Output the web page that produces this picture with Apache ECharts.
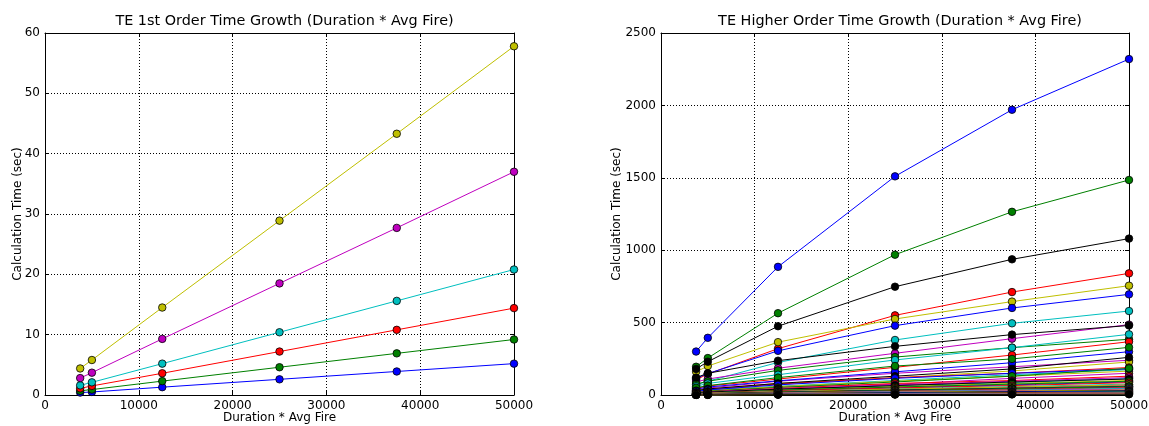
<!DOCTYPE html>
<html>
<head>
<meta charset="utf-8">
<script src="https://cdn.jsdelivr.net/npm/echarts@6/dist/echarts.min.js"></script>
<style>html,body{margin:0;padding:0;background:#fff;}#c{width:1149px;height:426px;}</style>
</head>
<body>
<div id="c"></div>
<script>
// x values (Duration * Avg Fire)
const xValues = [3750, 5000, 12500, 25000, 37500, 50000];
const xTicks = [0, 10000, 20000, 30000, 40000, 50000];
const leftYTicks = [0, 10, 20, 30, 40, 50, 60];
const rightYTicks = [0, 500, 1000, 1500, 2000, 2500];

// Left chart: TE 1st order (colour cycle b, g, r, c, m, y)
const firstOrderBlue    = [0.4, 0.5, 1.3, 2.6, 3.9, 5.2];
const firstOrderGreen   = [0.7, 0.9, 2.3, 4.6, 6.9, 9.2];
const firstOrderRed     = [1.1, 1.5, 3.6, 7.2, 10.8, 14.4];
const firstOrderCyan    = [1.6, 2.1, 5.2, 10.4, 15.6, 20.8];
const firstOrderMagenta = [2.8, 3.7, 9.3, 18.5, 27.7, 37.0];
const firstOrderYellow  = [4.4, 5.8, 14.5, 28.9, 43.3, 57.8];
const firstOrderSeries = [firstOrderBlue, firstOrderGreen, firstOrderRed, firstOrderCyan, firstOrderMagenta, firstOrderYellow];

// Right chart: TE higher order, in colour-cycle order (b, g, r, c, m, y, k, ...)
const higherOrderSeries = [
  [300, 395, 885, 1510, 1970, 2320],
  [195, 255, 565, 969, 1265, 1485],
  [105, 145, 320, 550, 711, 840],
  [70, 95, 225, 380, 495, 580],
  [90, 110, 185, 288, 389, 486],
  [160, 200, 365, 525, 645, 755],
  [180, 230, 475, 748, 937, 1080],
  [115, 148, 305, 479, 601, 695],
  [75, 95, 170, 262, 327, 385],
  [45, 62, 110, 191, 276, 368],
  [60, 80, 140, 242, 327, 419],
  [35, 48, 95, 150, 195, 240],
  [30, 40, 80, 118, 166, 228],
  [120, 150, 237, 336, 417, 480],
  [40, 55, 98, 160, 223, 299],
  [50, 65, 120, 200, 249, 329],
  [28, 38, 75, 120, 150, 190],
  [25, 35, 60, 100, 140, 175],
  [20, 28, 55, 74, 115, 150],
  [22, 30, 58, 95, 130, 165],
  [30, 42, 80, 130, 180, 260],
  [25, 35, 70, 115, 150, 180],
  [18, 26, 52, 90, 130, 184],
  [15, 22, 45, 80, 100, 130],
  [12, 18, 38, 65, 85, 115],
  [16, 22, 42, 70, 95, 120],
  [12, 16, 35, 58, 80, 100],
  [14, 20, 40, 65, 90, 110],
  [10, 14, 30, 50, 70, 90],
  [11, 15, 32, 55, 75, 95],
  [9, 13, 28, 48, 65, 85],
  [8, 11, 24, 42, 58, 75],
  [7, 10, 22, 38, 52, 68],
  [8, 11, 23, 40, 55, 70],
  [6, 9, 20, 34, 47, 60],
  [5, 8, 17, 30, 42, 55],
  [6, 8, 18, 31, 44, 58],
  [5, 7, 15, 27, 38, 50],
  [4, 6, 13, 24, 34, 46],
  [4, 5, 12, 21, 30, 40],
  [3, 5, 11, 19, 27, 35],
  [3, 4, 9, 16, 23, 30],
  [2, 3, 8, 14, 20, 26],
  [2, 3, 7, 12, 17, 22],
  [2, 3, 6, 10, 14, 18],
  [1, 2, 5, 8, 11, 14],
  [1, 2, 4, 6, 8, 10],
  [1, 1, 3, 4, 6, 7],
  [0.5, 1, 2, 3, 4, 5]
];

const titles = ['TE 1st Order Time Growth (Duration * Avg Fire)', 'TE Higher Order Time Growth (Duration * Avg Fire)'];
const xName = 'Duration * Avg Fire';
const yName = 'Calculation Time (sec)';

const colorCycle = ['#0000ff', '#008000', '#ff0000', '#00bfbf', '#bf00bf', '#bfbf00', '#000000'];
const FONT = 'DejaVu Sans';

const chart = echarts.init(document.getElementById('c'), null, {renderer: 'canvas'});

function tickSpec(arr) {
  return {min: arr[0], max: arr[arr.length - 1], interval: arr[1] - arr[0]};
}
const plain = v => String(v);

function mainX(gridIndex) {
  return Object.assign({
    type: 'value', gridIndex, position: 'bottom',
    name: xName, nameLocation: 'middle', nameGap: 17, nameMoveOverlap: false,
    nameTextStyle: {fontFamily: FONT, fontSize: 12, color: '#000'},
    axisLine: {show: true, onZero: false, lineStyle: {color: '#000', width: 1}},
    axisTick: {show: true, inside: true, length: 4, lineStyle: {color: '#000'}},
    axisLabel: {fontFamily: FONT, fontSize: 12, color: '#000', margin: 5, formatter: plain, hideOverlap: false},
    splitLine: {show: true, lineStyle: {color: '#000', type: [1, 2], width: 1}}
  }, tickSpec(xTicks));
}
function topX(gridIndex) {
  return Object.assign({
    type: 'value', gridIndex, position: 'top',
    axisLine: {show: true, onZero: false, lineStyle: {color: '#000', width: 1}},
    axisTick: {show: true, inside: true, length: 4, lineStyle: {color: '#000'}},
    axisLabel: {show: false}, splitLine: {show: false}
  }, tickSpec(xTicks));
}
function mainY(gridIndex, ticks, gap) {
  return Object.assign({
    type: 'value', gridIndex, position: 'left',
    name: yName, nameLocation: 'middle', nameGap: gap, nameRotate: 90, nameMoveOverlap: false,
    nameTextStyle: {fontFamily: FONT, fontSize: 12, color: '#000'},
    axisLine: {show: true, onZero: false, lineStyle: {color: '#000', width: 1}},
    axisTick: {show: true, inside: true, length: 4, lineStyle: {color: '#000'}},
    axisLabel: {fontFamily: FONT, fontSize: 12, color: '#000', margin: 5, formatter: plain},
    splitLine: {show: true, lineStyle: {color: '#000', type: [1, 2], width: 1}}
  }, tickSpec(ticks));
}
function rightY(gridIndex, ticks) {
  return Object.assign({
    type: 'value', gridIndex, position: 'right',
    axisLine: {show: true, onZero: false, lineStyle: {color: '#000', width: 1}},
    axisTick: {show: true, inside: true, length: 4, lineStyle: {color: '#000'}},
    axisLabel: {show: false}, splitLine: {show: false}
  }, tickSpec(ticks));
}

function makeSeries(values, idx, axisIdx) {
  const color = colorCycle[idx % colorCycle.length];
  return {
    type: 'line', xAxisIndex: axisIdx, yAxisIndex: axisIdx,
    data: xValues.map((x, i) => [x, values[i]]),
    symbol: 'circle', symbolSize: 7.5, showSymbol: true,
    lineStyle: {color, width: 1},
    itemStyle: {color, borderColor: '#000', borderWidth: 0.8},
    emphasis: {disabled: true}, silent: true, clip: false
  };
}

const series = [];
firstOrderSeries.forEach((s, i) => series.push(makeSeries(s, i, 0)));
higherOrderSeries.forEach((s, i) => series.push(makeSeries(s, i, 1)));

chart.setOption({
  animation: false,
  backgroundColor: '#fff',
  title: [
    {text: titles[0], left: 279.5, top: 9, textAlign: 'center', textStyle: {fontFamily: FONT, fontSize: 14.4, fontWeight: 'normal', color: '#000'}},
    {text: titles[1], left: 895, top: 9, textAlign: 'center', textStyle: {fontFamily: FONT, fontSize: 14.4, fontWeight: 'normal', color: '#000'}}
  ],
  grid: [
    {left: 45, top: 33, width: 469, height: 362, show: false, containLabel: false, outerBoundsMode: 'none'},
    {left: 661, top: 33, width: 468, height: 362, show: false, containLabel: false, outerBoundsMode: 'none'}
  ],
  xAxis: [mainX(0), mainX(1), topX(0), topX(1)],
  yAxis: [mainY(0, leftYTicks, 21), mainY(1, rightYTicks, 38), rightY(0, leftYTicks), rightY(1, rightYTicks)],
  series
});
</script>
</body>
</html>
